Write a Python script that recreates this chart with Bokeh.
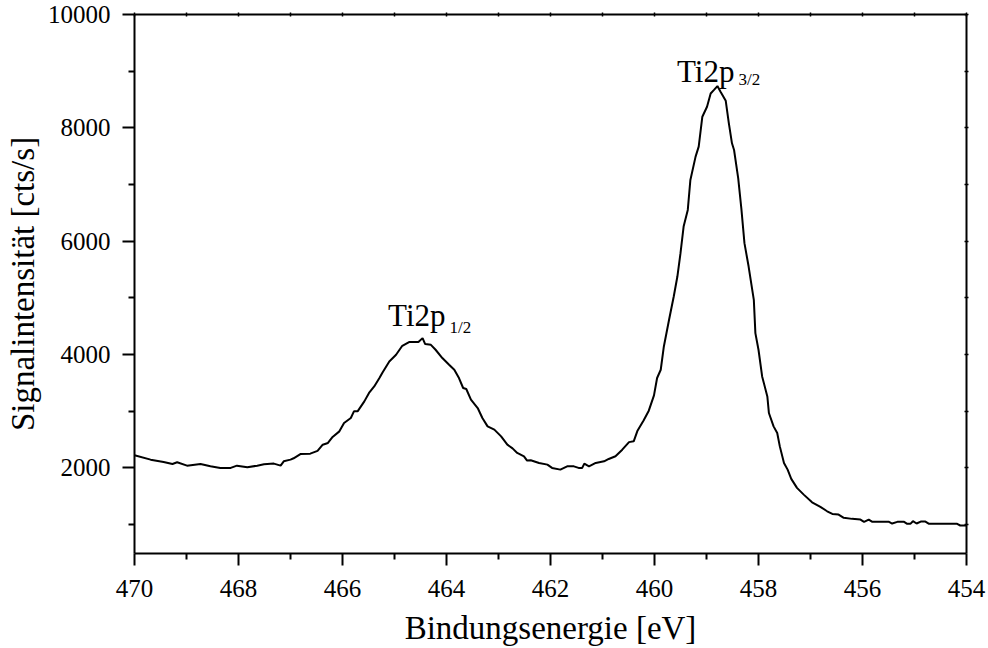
from bokeh.plotting import figure
from bokeh.models import Range1d, FixedTicker, LinearAxis, Label
from bokeh.embed import file_html
from bokeh.resources import INLINE

# Binding energy [eV] and signal intensity [cts/s]
energy = [470.00, 469.69, 469.44, 469.27, 469.18, 468.99, 468.73, 468.54, 468.35, 468.15,
          468.03, 467.83, 467.64, 467.51, 467.32, 467.19, 467.13, 467.00, 466.94, 466.81,
          466.62, 466.48, 466.38, 466.28, 466.19, 466.06, 465.97, 465.84, 465.78, 465.71,
          465.58, 465.49, 465.39, 465.29, 465.23, 465.10, 464.97, 464.85, 464.72, 464.54,
          464.46, 464.41, 464.30, 464.21, 464.08, 463.95, 463.85, 463.76, 463.68, 463.62,
          463.53, 463.40, 463.31, 463.21, 463.08, 462.95, 462.83, 462.73, 462.64, 462.51,
          462.45, 462.38, 462.22, 462.06, 461.97, 461.81, 461.68, 461.55, 461.46, 461.39,
          461.35, 461.26, 461.13, 460.97, 460.88, 460.75, 460.62, 460.49, 460.40, 460.33,
          460.21, 460.11, 460.01, 459.95, 459.88, 459.82, 459.72, 459.63, 459.56, 459.50,
          459.44, 459.36, 459.31, 459.21, 459.15, 459.08, 458.99, 458.92, 458.86, 458.79,
          458.73, 458.63, 458.57, 458.51, 458.47, 458.39, 458.33, 458.27, 458.19, 458.09,
          458.06, 458.00, 457.93, 457.83, 457.80, 457.71, 457.64, 457.59, 457.51, 457.44,
          457.37, 457.26, 457.13, 456.97, 456.81, 456.68, 456.58, 456.46, 456.36, 456.20,
          456.04, 455.97, 455.88, 455.81, 455.49, 455.43, 455.33, 455.20, 455.14, 455.08,
          455.03, 454.96, 454.88, 454.79, 454.72, 454.18, 454.12, 454.00]
intensity = [2222, 2146, 2106, 2070, 2099, 2040, 2070, 2028, 2000, 2000,
             2040, 2010, 2040, 2064, 2076, 2040, 2116, 2146, 2170, 2245,
             2252, 2300, 2410, 2440, 2546, 2645, 2793, 2881, 2998, 2998,
             3174, 3322, 3438, 3586, 3685, 3879, 3996, 4155, 4220, 4220,
             4290, 4185, 4172, 4085, 3938, 3820, 3732, 3586, 3410, 3392,
             3204, 3057, 2881, 2733, 2675, 2557, 2410, 2345, 2264, 2205,
             2129, 2134, 2088, 2058, 2000, 1970, 2028, 2028, 2000, 2000,
             2076, 2028, 2088, 2116, 2158, 2205, 2322, 2455, 2469, 2650,
             2836, 3010, 3280, 3586, 3732, 4143, 4614, 5024, 5377, 5789,
             6258, 6552, 7081, 7492, 7668, 8196, 8372, 8607, 8666, 8737,
             8637, 8478, 8079, 7727, 7609, 7110, 6580, 5965, 5553, 4966,
             4379, 4085, 3615, 3262, 2969, 2733, 2617, 2380, 2088, 1970,
             1806, 1648, 1529, 1394, 1313, 1235, 1189, 1177, 1119, 1101,
             1089, 1048, 1089, 1048, 1048, 1019, 1048, 1048, 1013, 1013,
             1060, 1019, 1054, 1054, 1013, 1013, 984, 984]

x_major = [470, 468, 466, 464, 462, 460, 458, 456, 454]
x_minor = [469, 467, 465, 463, 461, 459, 457, 455]
x_all = list(range(454, 471))
y_major = [2000, 4000, 6000, 8000, 10000]
y_minor = [1000, 3000, 5000, 7000, 9000]
y_all = list(range(1000, 10001, 1000))

peak_names = ["Ti2p", "Ti2p"]
peak_subs = ["1/2", "3/2"]

FONT = "Liberation Serif"

p = figure(width=988, height=648, output_backend="svg", toolbar_location=None,
           x_range=Range1d(470, 454), y_range=Range1d(490, 10000),
           min_border_left=134, min_border_right=22, min_border_top=14, min_border_bottom=94,
           background_fill_color="white", border_fill_color="white")
p.outline_line_color = None
p.xgrid.visible = False
p.ygrid.visible = False

p.line(energy, intensity, line_color="black", line_width=2)

for ax, tk in ((p.xaxis[0], FixedTicker(ticks=x_major, minor_ticks=x_minor)),
               (p.yaxis[0], FixedTicker(ticks=y_major, minor_ticks=y_minor))):
    ax.ticker = tk
    ax.axis_line_width = 2
    ax.axis_line_color = "black"
    ax.major_tick_line_width = 2
    ax.minor_tick_line_width = 2
    ax.major_tick_out = 12
    ax.major_tick_in = 0
    ax.minor_tick_out = 6
    ax.minor_tick_in = 0
    ax.major_label_text_font = FONT
    ax.major_label_text_font_size = "25px"
    ax.major_label_text_color = "black"
    ax.axis_label_text_font = FONT
    ax.axis_label_text_font_size = "33px"
    ax.axis_label_text_font_style = "normal"
    ax.axis_label_text_color = "black"

p.xaxis.axis_label = "Bindungsenergie [eV]"
p.xaxis.major_label_standoff = 14
p.xaxis.axis_label_standoff = 10
p.yaxis.axis_label = "Signalintensität [cts/s]"
p.yaxis.major_label_standoff = 12
p.yaxis.axis_label_standoff = 4

# frame axes on top and right: small ticks only, no labels
top = LinearAxis(ticker=FixedTicker(ticks=[], minor_ticks=x_all), axis_line_width=2,
                 minor_tick_in=2, minor_tick_out=2, major_tick_in=0, major_tick_out=0,
                 minor_tick_line_width=1.5)
right = LinearAxis(ticker=FixedTicker(ticks=[], minor_ticks=y_all), axis_line_width=2,
                   minor_tick_in=2, minor_tick_out=2, major_tick_in=0, major_tick_out=0,
                   minor_tick_line_width=1.5)
p.add_layout(top, "above")
p.add_layout(right, "right")

# peak annotations anchored to each peak maximum in the data
split = 461.5
regions = [[i for i, e in enumerate(energy) if e > split],
           [i for i, e in enumerate(energy) if e <= split]]
offsets = [(6, 23, 11), (0, 15, 7)]
for k, idx in enumerate(regions):
    im = max(idx, key=lambda i: intensity[i])
    dx, dy_main, dy_sub = offsets[k]
    p.add_layout(Label(x=energy[im], y=intensity[im], text=peak_names[k],
                       x_offset=dx + 17, y_offset=dy_main, text_align="right",
                       text_baseline="alphabetic", text_font=FONT,
                       text_font_size="31px", text_color="black"))
    p.add_layout(Label(x=energy[im], y=intensity[im], text=peak_subs[k],
                       x_offset=dx + 21, y_offset=dy_sub, text_align="left",
                       text_baseline="alphabetic", text_font=FONT,
                       text_font_size="17px", text_color="black"))

open("out.html", "w").write(file_html(p, INLINE))
